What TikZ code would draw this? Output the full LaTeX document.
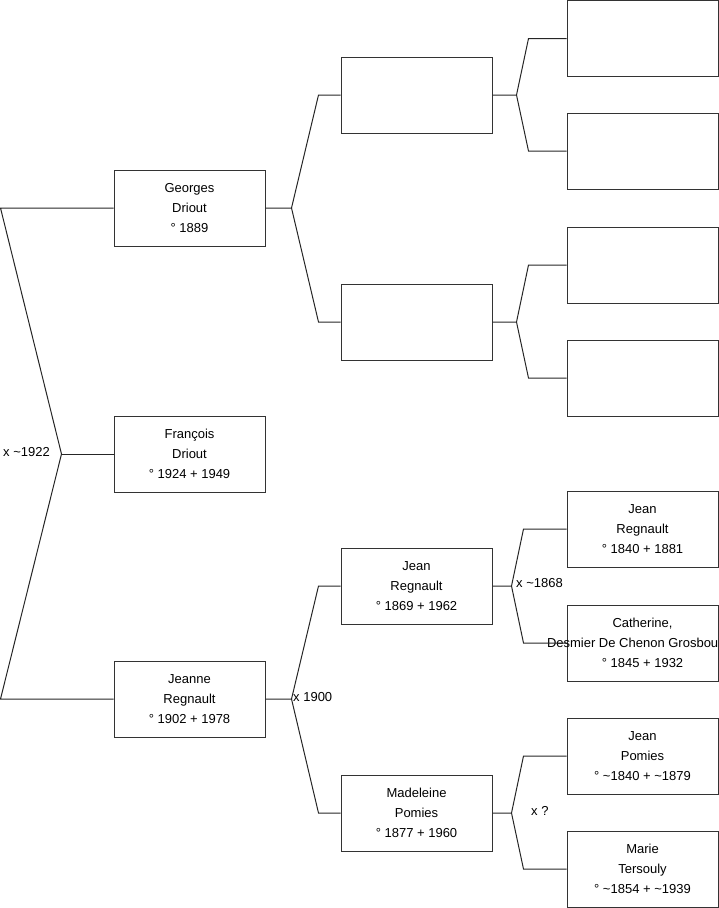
\documentclass[tikz,border=0pt]{standalone}
\usepackage{fontspec}
\setmainfont{Liberation Sans}
\begin{document}
\begin{tikzpicture}[x=1pt,y=-1pt,
 person/.style={draw=black!80, line width=1pt, minimum width=151pt, minimum height=76pt, inner sep=0pt, align=center, font=\fontsize{13}{20}\selectfont},
 link/.style={draw=black!85, line width=1pt},
 lbl/.style={anchor=west, inner sep=0pt, font=\fontsize{13}{16}\selectfont}]
\clip (0,0) rectangle (719,908);
% column 1
\node[person] (georges) at (189.5,208) {Georges\\Driout\\° 1889};
\node[person] (francois) at (189.5,454) {François\\Driout\\° 1924 + 1949};
\node[person] (jeanne) at (189.5,699) {Jeanne\\Regnault\\° 1902 + 1978};
% column 2
\node[person] (pa) at (416.5,95) {};
\node[person] (pb) at (416.5,322) {};
\node[person] (jean) at (416.5,586) {Jean\\Regnault\\° 1869 + 1962};
\node[person] (madeleine) at (416.5,813) {Madeleine\\Pomies\\° 1877 + 1960};
% column 3
\node[person] (g1) at (642.5,38.5) {};
\node[person] (g2) at (642.5,151) {};
\node[person] (g3) at (642.5,265) {};
\node[person] (g4) at (642.5,378) {};
\node[person] (jeanr) at (642.5,529) {Jean\\Regnault\\° 1840 + 1881};
\node[person] (catherine) at (642.5,643) {Catherine,\\\makebox[0pt][l]{\hspace{-95.5pt}Desmier De Chenon Grosbou}\\° 1845 + 1932};
\node[person] (jeanp) at (642.5,756) {Jean\\Pomies\\° \textasciitilde1840 + \textasciitilde1879};
\node[person] (marie) at (642.5,869) {Marie\\Tersouly\\° \textasciitilde1854 + \textasciitilde1939};
% junctions
\coordinate (root) at ([xshift=-52]francois.west);
\coordinate (jg) at ([xshift=26]georges.east);
\coordinate (ja) at ([xshift=24]pa.east);
\coordinate (jb) at ([xshift=24]pb.east);
\coordinate (jj) at ([xshift=26]jeanne.east);
\coordinate (jn) at ([xshift=19]jean.east);
\coordinate (jm) at ([xshift=19]madeleine.east);
% connectors
\draw[link] (georges.west) -- ([xshift=-113]georges.west) -- (root) -- ([xshift=-113]jeanne.west) -- (jeanne.west);
\draw[link] (root) -- (francois.west);
\draw[link] (georges.east) -- (jg) -- ([xshift=-22]pa.west) -- (pa.west);
\draw[link] (jg) -- ([xshift=-22]pb.west) -- (pb.west);
\draw[link] (pa.east) -- (ja) -- ([xshift=-38]g1.west) -- (g1.west);
\draw[link] (ja) -- ([xshift=-38]g2.west) -- (g2.west);
\draw[link] (pb.east) -- (jb) -- ([xshift=-38]g3.west) -- (g3.west);
\draw[link] (jb) -- ([xshift=-38]g4.west) -- (g4.west);
\draw[link] (jeanne.east) -- (jj) -- ([xshift=-22]jean.west) -- (jean.west);
\draw[link] (jj) -- ([xshift=-22]madeleine.west) -- (madeleine.west);
\draw[link] (jean.east) -- (jn) -- ([xshift=-43]jeanr.west) -- (jeanr.west);
\draw[link] (jn) -- ([xshift=-43]catherine.west) -- (catherine.west);
\draw[link] (madeleine.east) -- (jm) -- ([xshift=-43]jeanp.west) -- (jeanp.west);
\draw[link] (jm) -- ([xshift=-43]marie.west) -- (marie.west);
% labels
\node[lbl] (l1922) at (3,452) {x \textasciitilde1922};
\node[lbl] (l1900) at (293,697) {x 1900};
\node[lbl] (l1868) at (516,583) {x \textasciitilde1868};
\node[lbl] (lq) at (531,811) {x ?};
\end{tikzpicture}
\end{document}
